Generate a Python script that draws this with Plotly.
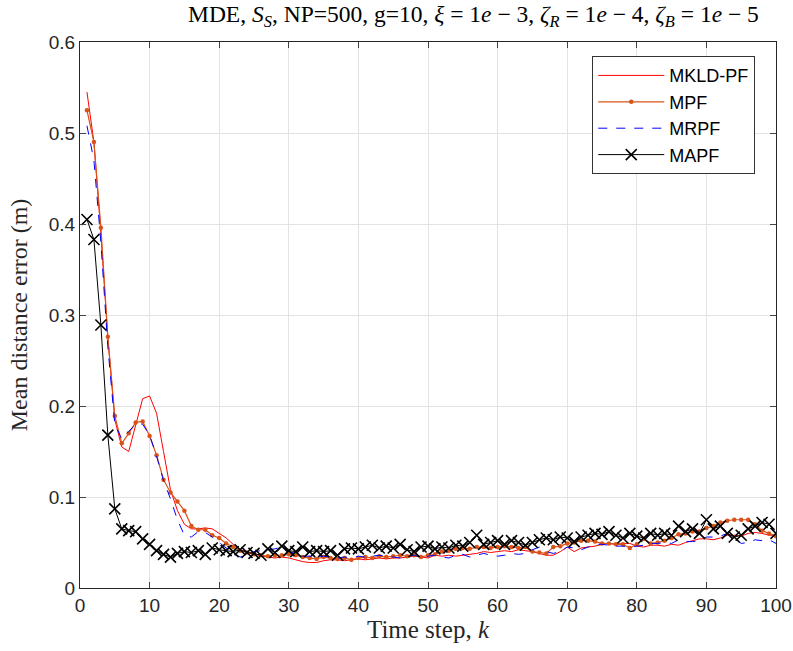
import plotly.graph_objects as go

steps = list(range(1, 101))

mkld_pf = [0.545, 0.490, 0.390, 0.275, 0.185, 0.155, 0.150, 0.180, 0.208, 0.211,
           0.192, 0.150, 0.108, 0.085, 0.070, 0.065, 0.065, 0.066, 0.065, 0.060,
           0.055, 0.048, 0.042, 0.040, 0.038, 0.035, 0.034, 0.033, 0.034, 0.033,
           0.031, 0.029, 0.028, 0.028, 0.030, 0.031, 0.031, 0.030, 0.031, 0.032,
           0.031, 0.032, 0.033, 0.032, 0.033, 0.033, 0.034, 0.035, 0.034, 0.033,
           0.036, 0.035, 0.036, 0.035, 0.036, 0.037, 0.038, 0.040, 0.039, 0.040,
           0.041, 0.040, 0.042, 0.041, 0.040, 0.038, 0.036, 0.036, 0.040, 0.045,
           0.040, 0.044, 0.045, 0.046, 0.048, 0.049, 0.048, 0.049, 0.049, 0.046,
           0.045, 0.047, 0.047, 0.046, 0.048, 0.047, 0.050, 0.052, 0.054, 0.054,
           0.053, 0.055, 0.058, 0.058, 0.057, 0.060, 0.061, 0.060, 0.058, 0.058]

mpf = [0.525, 0.490, 0.396, 0.276, 0.189, 0.159, 0.170, 0.182, 0.183, 0.167,
       0.146, 0.119, 0.105, 0.095, 0.085, 0.068, 0.064, 0.064, 0.058, 0.055,
       0.049, 0.045, 0.041, 0.039, 0.037, 0.036, 0.035, 0.036, 0.036, 0.037,
       0.036, 0.034, 0.033, 0.032, 0.034, 0.033, 0.032, 0.033, 0.031, 0.033,
       0.034, 0.033, 0.035, 0.034, 0.035, 0.036, 0.035, 0.036, 0.034, 0.036,
       0.037, 0.040, 0.041, 0.043, 0.044, 0.043, 0.045, 0.045, 0.044, 0.045,
       0.046, 0.045, 0.044, 0.045, 0.040, 0.039, 0.038, 0.045, 0.046, 0.049,
       0.050, 0.052, 0.052, 0.051, 0.049, 0.049, 0.048, 0.048, 0.044, 0.048,
       0.054, 0.049, 0.050, 0.052, 0.055, 0.059, 0.060, 0.062, 0.062, 0.066,
       0.068, 0.072, 0.074, 0.075, 0.075, 0.075, 0.070, 0.063, 0.060, 0.057]

mrpf = [0.508, 0.470, 0.380, 0.265, 0.180, 0.164, 0.172, 0.180, 0.180, 0.168,
        0.145, 0.118, 0.098, 0.075, 0.058, 0.056, 0.062, 0.061, 0.056, 0.050,
        0.045, 0.038, 0.034, 0.036, 0.040, 0.041, 0.042, 0.043, 0.045, 0.040,
        0.038, 0.035, 0.035, 0.034, 0.035, 0.034, 0.033, 0.034, 0.033, 0.035,
        0.034, 0.035, 0.036, 0.035, 0.034, 0.033, 0.035, 0.036, 0.034, 0.035,
        0.036, 0.034, 0.033, 0.036, 0.037, 0.034, 0.036, 0.038, 0.036, 0.035,
        0.036, 0.038, 0.037, 0.038, 0.042, 0.045, 0.040, 0.038, 0.040, 0.045,
        0.044, 0.042, 0.045, 0.048, 0.048, 0.047, 0.046, 0.046, 0.045, 0.046,
        0.047, 0.049, 0.049, 0.050, 0.049, 0.053, 0.051, 0.051, 0.052, 0.056,
        0.056, 0.057, 0.060, 0.055, 0.049, 0.050, 0.053, 0.052, 0.053, 0.049]

mapf = [0.405, 0.383, 0.289, 0.168, 0.087, 0.065, 0.063, 0.062, 0.054, 0.048,
        0.041, 0.037, 0.034, 0.038, 0.040, 0.039, 0.041, 0.037, 0.044, 0.042,
        0.041, 0.040, 0.042, 0.039, 0.038, 0.036, 0.043, 0.039, 0.046, 0.041,
        0.040, 0.045, 0.040, 0.041, 0.040, 0.041, 0.036, 0.043, 0.044, 0.043,
        0.045, 0.047, 0.044, 0.046, 0.044, 0.048, 0.042, 0.040, 0.045, 0.046,
        0.043, 0.045, 0.044, 0.047, 0.046, 0.050, 0.058, 0.048, 0.050, 0.052,
        0.048, 0.052, 0.050, 0.047, 0.050, 0.053, 0.055, 0.053, 0.056, 0.055,
        0.051, 0.056, 0.058, 0.060, 0.059, 0.062, 0.058, 0.055, 0.060, 0.057,
        0.055, 0.060, 0.058, 0.060, 0.058, 0.068, 0.062, 0.065, 0.060, 0.075,
        0.065, 0.068, 0.060, 0.056, 0.058, 0.065, 0.068, 0.072, 0.070, 0.060]

x_ticks = list(range(0, 101, 10))
y_ticks = [0, 0.1, 0.2, 0.3, 0.4, 0.5, 0.6]
y_tick_labels = ["0", "0.1", "0.2", "0.3", "0.4", "0.5", "0.6"]

title_text = ("MDE, <i>S<sub>S</sub></i>, NP=500, g=10, <i>ξ</i> = 1<i>e</i> − 3, "
              "<i>ζ<sub>R</sub></i> = 1<i>e</i> − 4, <i>ζ<sub>B</sub></i> = 1<i>e</i> − 5")

fig = go.Figure()
fig.add_trace(go.Scatter(x=steps, y=mkld_pf, mode="lines", name="MKLD-PF",
                         line=dict(color="#FF0000", width=1)))
fig.add_trace(go.Scatter(x=steps, y=mpf, mode="lines+markers", name="MPF",
                         line=dict(color="#D95319", width=1.2),
                         marker=dict(symbol="circle", size=4.5, color="#D95319")))
fig.add_trace(go.Scatter(x=steps, y=mrpf, mode="lines", name="MRPF",
                         line=dict(color="#0000FF", width=1, dash="dash")))
fig.add_trace(go.Scatter(x=steps, y=mapf, mode="lines+markers", name="MAPF",
                         line=dict(color="#000000", width=1),
                         marker=dict(symbol="x-thin", size=11,
                                     line=dict(color="#000000", width=1.6))))

serif = "Liberation Serif, Times New Roman, serif"
sans = "Liberation Sans, Arial, sans-serif"

fig.add_annotation(text=title_text, xref="paper", yref="paper",
                   x=0.153, y=1.047, xanchor="left", yanchor="middle",
                   showarrow=False,
                   font=dict(family=serif, size=23.5, color="black"))

fig.update_layout(
    width=793, height=651,
    margin=dict(l=80, r=17, t=42, b=63),
    paper_bgcolor="white", plot_bgcolor="white",
    legend=dict(x=0.736, y=0.974, xanchor="left", yanchor="top",
                bgcolor="white", bordercolor="#333333", borderwidth=1,
                font=dict(family=sans, size=18, color="black"),
                tracegroupgap=0, itemwidth=66),
    xaxis=dict(range=[0, 100], tickvals=x_ticks, ticks="inside", ticklen=6,
               automargin=False,
               showline=True, linecolor="#262626", linewidth=1, mirror="ticks",
               showgrid=True, gridcolor="#E3E3E3", zeroline=False,
               tickfont=dict(family=sans, size=19, color="#262626"),
               title=dict(text="Time step, <i>k</i>", standoff=2,
                          font=dict(family=serif, size=25, color="#262626"))),
    yaxis=dict(range=[0, 0.6], tickvals=y_ticks, ticktext=y_tick_labels,
               ticks="inside", ticklen=6, automargin=False,
               showline=True, linecolor="#262626", linewidth=1, mirror="ticks",
               showgrid=True, gridcolor="#E3E3E3", zeroline=False,
               tickfont=dict(family=sans, size=19, color="#262626"),
               title=dict(text="Mean distance error (m)", standoff=14,
                          font=dict(family=serif, size=24, color="#262626"))),
)

fig.write_html("out.html")
